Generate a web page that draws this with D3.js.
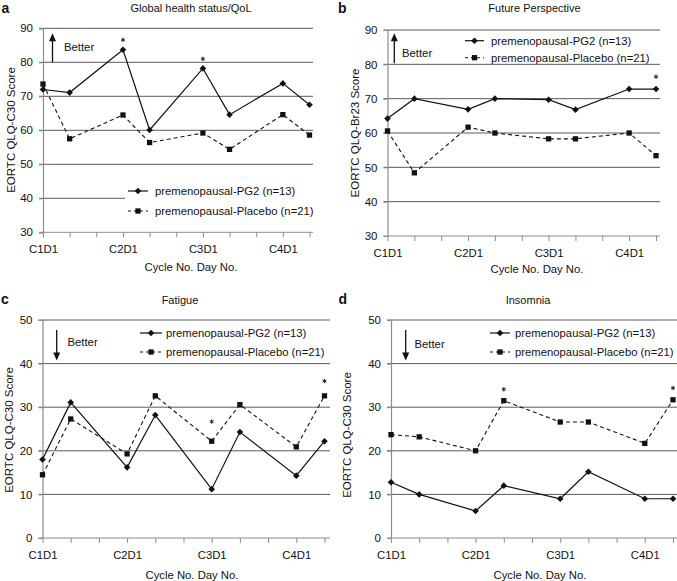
<!DOCTYPE html>
<html>
<head>
<meta charset="utf-8">
<script src="https://cdn.jsdelivr.net/npm/d3@7"></script>
<style>
  html, body { margin: 0; padding: 0; background: #fff; }
  svg { display: block; font-family: "Liberation Sans", Arial, sans-serif; }
</style>
</head>
<body>
<svg id="chart" width="677" height="581"></svg>
<script>
// ---------------- data ----------------
const steps = d3.range(11);
const stepLabels = ["C1D1", "", "", "C2D1", "", "", "C3D1", "", "", "C4D1", ""];
const visitIdx = [0, 1, 3, 4, 6, 7, 9, 10];
const seriesNames = ["premenopausal-PG2 (n=13)", "premenopausal-Placebo (n=21)"];
const panelTitles = ["Global health status/QoL", "Future Perspective", "Fatigue", "Insomnia"];
const panelLetters = ["a", "b", "c", "d"];
const yTitles = ["EORTC QLQ-C30 Score", "EORTC QLQ-Br23 Score", "EORTC QLQ-C30 Score", "EORTC QLQ-C30 Score"];
const xTitle = "Cycle No. Day No.";

const qolTicks = [30, 40, 50, 60, 70, 80, 90];
const symTicks = [0, 10, 20, 30, 40, 50];

const qolPG2     = [72.0, 71.1, 83.7, 60.1, 78.2, 64.6, 73.8, 67.5];
const qolPlacebo = [73.6, 57.5, 64.5, 56.4, 59.2, 54.4, 64.6, 58.6];
const futPG2     = [64.2, 70.0, 66.9, 70.0, 69.7, 66.8, 72.8, 72.8];
const futPlacebo = [60.6, 48.4, 61.7, 60.0, 58.3, 58.3, 60.0, 53.4];
const fatPG2     = [18.0, 31.1, 16.2, 28.2, 11.2, 24.3, 14.3, 22.2];
const fatPlacebo = [14.5, 27.3, 19.3, 32.6, 22.2, 30.6, 20.9, 32.6];
const insPG2     = [12.8, 10.0, 6.2, 12.0, 9.0, 15.2, 9.0, 9.0];
const insPlacebo = [23.7, 23.2, 20.0, 31.5, 26.6, 26.6, 21.7, 31.7];

// significance stars: step index and score level of the star
const qolStarIdx = [3, 6],  qolStarVal = [86.6, 81.0];
const futStarIdx = [10],    futStarVal = [76.4];
const fatStarIdx = [6, 10], fatStarVal = [26.7, 36.0];
const insStarIdx = [4, 10], insStarVal = [34.1, 34.4];

const betterDir = ["up", "up", "down", "down"];

// ---------------- layout ----------------
const panels = [
  { pg2: qolPG2, pla: qolPlacebo, ticks: qolTicks, starIdx: qolStarIdx, starVal: qolStarVal,
    x0: 43, x1: 309.5, gridEnd: 313, yTop: 28.3, yBot: 232.3,
    letter: [1.5, 13], title: [191, 12], yLab: [10.5, 130], xLab: [191, 271],
    leg: { lx0: 128, lx1: 148, tx: 155, y1: 191, y2: 211, box: [125, 181, 188, 41] },
    arrow: { x: 52.5, tail: 62.3, tip: 33.3, tx: 64, ty: 46.7 } },
  { pg2: futPG2, pla: futPlacebo, ticks: qolTicks, starIdx: futStarIdx, starVal: futStarVal,
    x0: 387.5, x1: 656, gridEnd: 660, yTop: 30, yBot: 236,
    letter: [338, 13], title: [534.5, 12], yLab: [355, 133], xLab: [537, 272.5],
    leg: { lx0: 465, lx1: 484, tx: 491, y1: 40.7, y2: 57.7, box: null },
    arrow: { x: 394.3, tail: 63.3, tip: 33.3, tx: 402, ty: 53.3 } },
  { pg2: fatPG2, pla: fatPlacebo, ticks: symTicks, starIdx: fatStarIdx, starVal: fatStarVal,
    x0: 42.5, x1: 324.5, gridEnd: 330, yTop: 320, yBot: 538,
    letter: [1, 304], title: [180, 303.5], yLab: [9, 430], xLab: [192, 578.5],
    leg: { lx0: 140, lx1: 162, tx: 166, y1: 333, y2: 352, box: null },
    arrow: { x: 56.7, tail: 330, tip: 360.5, tx: 67.5, ty: 341.7 } },
  { pg2: insPG2, pla: insPlacebo, ticks: symTicks, starIdx: insStarIdx, starVal: insStarVal,
    x0: 391, x1: 673, gridEnd: 677, yTop: 320, yBot: 538,
    letter: [338.5, 304], title: [528, 304], yLab: [347, 435], xLab: [540, 578.5],
    leg: { lx0: 490, lx1: 510, tx: 515, y1: 333, y2: 352, box: null },
    arrow: { x: 405.7, tail: 330, tip: 360.5, tx: 414.5, ty: 344 } }
];

const svg = d3.select("#chart");
const GRID = "#5a5a5a", AXIS = "#8c8c8c", INK = "#111";
const diamond = d3.symbol().type(d3.symbolSquare).size(22);
const square = d3.symbol().type(d3.symbolSquare).size(28);
const asterisk = d3.symbol().type(d3.symbolAsterisk).size(14);

function marker(sel, kind, x, y) {
  if (kind === 0) {
    sel.append("path").attr("d", diamond())
      .attr("transform", `translate(${x},${y}) rotate(45)`).attr("fill", INK);
  } else {
    sel.append("path").attr("d", square())
      .attr("transform", `translate(${x},${y})`).attr("fill", INK);
  }
}

panels.forEach((p, i) => {
  const g = svg.append("g");
  const x = d3.scaleLinear().domain([0, 10]).range([p.x0, p.x1]);
  const ext = d3.extent(p.ticks);
  const y = d3.scaleLinear().domain(ext).range([p.yBot, p.yTop]);

  // gridlines (incl. bottom baseline)
  g.append("g").selectAll("line").data(p.ticks).join("line")
    .attr("x1", p.x0 - 4).attr("x2", p.gridEnd)
    .attr("y1", d => y(d)).attr("y2", d => y(d))
    .attr("stroke", d => d === ext[0] ? AXIS : GRID)
    .attr("stroke-width", 1);

  // legend white box (panel a)
  if (p.leg.box) {
    g.append("rect").attr("x", p.leg.box[0]).attr("y", p.leg.box[1])
      .attr("width", p.leg.box[2]).attr("height", p.leg.box[3]).attr("fill", "#fff");
  }

  // y axis
  const ya = g.append("g").attr("transform", `translate(${p.x0},0)`)
    .call(d3.axisLeft(y).tickValues(p.ticks).tickSize(4).tickPadding(6).tickFormat(d3.format("d")));
  ya.select(".domain").attr("stroke", AXIS).attr("stroke-width", 1.2);
  ya.selectAll(".tick line").attr("stroke", AXIS);
  ya.selectAll(".tick text").attr("font-size", 11.5).attr("fill", INK)
    .attr("font-family", "Liberation Sans, Arial, sans-serif");

  // x axis
  const xa = g.append("g").attr("transform", `translate(0,${p.yBot})`)
    .call(d3.axisBottom(x).tickValues(steps).tickSize(5).tickPadding(8)
      .tickFormat(d => stepLabels[d]));
  xa.select(".domain").remove();
  xa.selectAll(".tick line").attr("stroke", AXIS);
  xa.selectAll(".tick text").attr("font-size", 11.3).attr("fill", INK)
    .attr("font-family", "Liberation Sans, Arial, sans-serif");

  // lines
  const line = d3.line().x((d, k) => x(visitIdx[k])).y(d => y(d));
  g.append("path").datum(p.pla).attr("d", line).attr("fill", "none")
    .attr("stroke", INK).attr("stroke-width", 1.1).attr("stroke-dasharray", "4,3");
  g.append("path").datum(p.pg2).attr("d", line).attr("fill", "none")
    .attr("stroke", INK).attr("stroke-width", 1.2);
  p.pla.forEach((v, k) => marker(g, 1, x(visitIdx[k]), y(v)));
  p.pg2.forEach((v, k) => marker(g, 0, x(visitIdx[k]), y(v)));

  // stars
  p.starIdx.forEach((s, k) => {
    g.append("path").attr("d", asterisk())
      .attr("transform", `translate(${x(s)},${y(p.starVal[k])})`)
      .attr("fill", "none").attr("stroke", INK).attr("stroke-width", 0.9);
  });

  // legend
  [p.leg.y1, p.leg.y2].forEach((ly, k) => {
    g.append("line").attr("x1", p.leg.lx0).attr("x2", p.leg.lx1)
      .attr("y1", ly).attr("y2", ly).attr("stroke", INK)
      .attr("stroke-width", k === 0 ? 1.2 : 1.1)
      .attr("stroke-dasharray", k === 0 ? null : "3,3");
    marker(g, k, (p.leg.lx0 + p.leg.lx1) / 2, ly);
    g.append("text").attr("x", p.leg.tx).attr("y", ly).attr("dy", "0.35em")
      .attr("font-size", 11.3).attr("fill", INK).text(seriesNames[k]);
  });

  // better arrow
  const a = p.arrow;
  const dir = betterDir[i] === "up" ? -1 : 1;
  g.append("line").attr("x1", a.x).attr("x2", a.x)
    .attr("y1", a.tail).attr("y2", a.tip - dir * 7)
    .attr("stroke", INK).attr("stroke-width", 1.3);
  g.append("path")
    .attr("d", `M${a.x},${a.tip} L${a.x - 3.5},${a.tip - dir * 8} L${a.x + 3.5},${a.tip - dir * 8} Z`)
    .attr("fill", INK);
  g.append("text").attr("x", a.tx).attr("y", a.ty).attr("dy", "0.35em")
    .attr("font-size", 11.3).attr("fill", INK).text("Better");

  // titles
  g.append("text").attr("x", p.letter[0]).attr("y", p.letter[1])
    .attr("font-size", 14).attr("font-weight", "bold").attr("fill", INK).text(panelLetters[i]);
  g.append("text").attr("x", p.title[0]).attr("y", p.title[1]).attr("text-anchor", "middle")
    .attr("font-size", 11).attr("fill", INK).text(panelTitles[i]);
  g.append("text").attr("transform", `translate(${p.yLab[0]},${p.yLab[1]}) rotate(-90)`)
    .attr("text-anchor", "middle").attr("dy", "0.35em")
    .attr("font-size", 11.5).attr("fill", INK).text(yTitles[i]);
  g.append("text").attr("x", p.xLab[0]).attr("y", p.xLab[1]).attr("text-anchor", "middle")
    .attr("font-size", 11.3).attr("fill", INK).text(xTitle);
});
</script>
</body>
</html>
